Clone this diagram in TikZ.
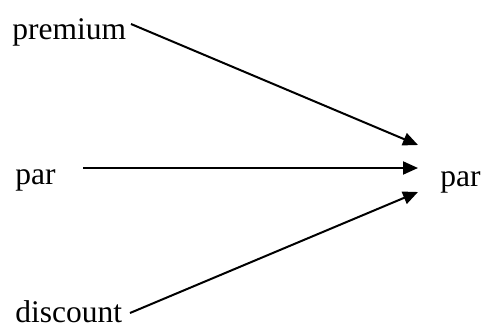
\documentclass[tikz,border=0pt]{standalone}
\usepackage{fontspec}
\setmainfont{Liberation Serif}
\usetikzlibrary{arrows.meta}
\begin{document}
\begin{tikzpicture}[x=0.5pt,y=-0.5pt,
  lbl/.style={inner sep=0pt,anchor=base west,font=\fontsize{15.75}{18}\selectfont},
  arr/.style={line width=1pt,-{Triangle[length=7.5pt,width=6.5pt]}}]
\useasboundingbox (0,0) rectangle (483,327);
\node[lbl] (premium) at (12,39) {premium};
\node[lbl] (parL) at (15,184) {par};
\node[lbl] (discount) at (15,322) {discount};
\node[lbl] (parR) at (440,186) {par};
\coordinate (s1) at (131,24);
\coordinate (s2) at (83,168);
\coordinate (s3) at (130,313);
\coordinate (e1) at (418,145);
\coordinate (e2) at (418,168);
\coordinate (e3) at (418,192);
\draw[arr] (s1) -- (e1);
\draw[arr] (s2) -- (e2);
\draw[arr] (s3) -- (e3);
\end{tikzpicture}
\end{document}
